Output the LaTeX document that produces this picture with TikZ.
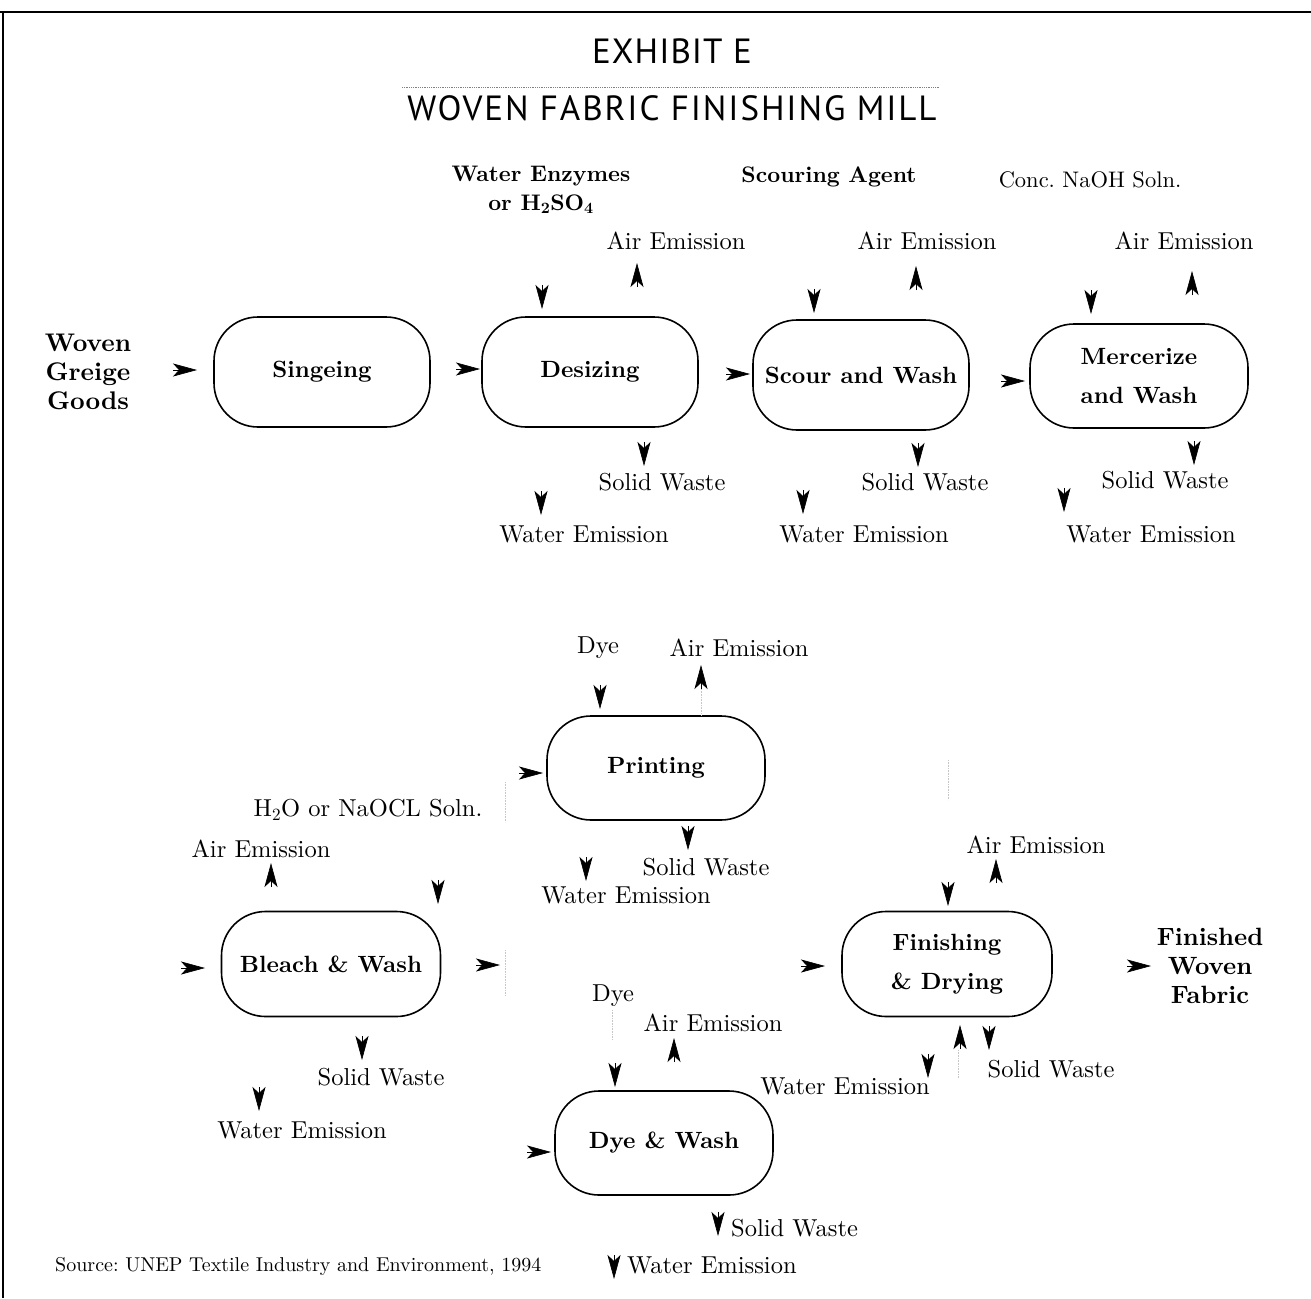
\documentclass[tikz,border=0pt]{standalone}
\usepackage{fontspec}
\setmainfont{lmroman10-regular.otf}[BoldFont=lmroman10-bold.otf, ItalicFont=lmroman10-italic.otf]
\newfontfamily\titlefont{PT Sans}
\usetikzlibrary{arrows.meta}
\frenchspacing

% text sizes
\newcommand\lblsize{\fontsize{24.5}{29}\selectfont}
\newcommand\boldsize{\fontsize{22.5}{29}\selectfont\bfseries}
\newcommand\boxsize{\fontsize{23.5}{39}\selectfont\bfseries}

\tikzset{
  proc/.style={draw, line width=1.6pt, rounded corners=44pt, minimum width=216pt,
    minimum height=110pt, align=center, font=\boxsize, inner sep=0pt},
  lbl/.style={font=\lblsize, inner sep=0pt},
  inlbl/.style={font=\boldsize, inner sep=0pt, align=center},
  tip/.style={-{Stealth[length=24pt,width=13pt,inset=6pt]}, line width=0.6pt},
  faint/.style={gray!45, densely dotted, line width=0.6pt},
}

\begin{document}
\begin{tikzpicture}[x=1pt,y=-1pt]
\useasboundingbox (0,0) rectangle (1311,1298);

% frame edges
\draw[line width=2pt] (0,12) -- (1311,12);
\draw[line width=1.4pt] (3,12) -- (3,1298);

% heading
\node[font=\titlefont\fontsize{35}{40}\selectfont\addfontfeatures{LetterSpace=3}, inner sep=0pt] (title) at (672,51) {EXHIBIT E};
\coordinate (ruleL) at (402,87);
\coordinate (ruleR) at (940,87);
\draw[gray, densely dotted, line width=0.8pt] (ruleL) -- (ruleR);
\node[font=\titlefont\fontsize{35}{40}\selectfont\addfontfeatures{LetterSpace=5.5}, inner sep=0pt] (subtitle) at (672,108) {WOVEN FABRIC FINISHING MILL};

% process steps
\node[proc] (sing)  at (322,372)  {Singeing};
\node[proc] (desz)  at (590,372)  {Desizing};
\node[proc] (scour) at (861,375)  {Scour and Wash};
\node[proc, minimum width=218pt, minimum height=104pt] (merc) at (1139,376) {Mercerize\\and Wash};
\node[proc, minimum width=218pt, minimum height=104pt] (print) at (656,768) {Printing};
\node[proc, minimum width=219pt, minimum height=105pt] (bleach) at (331,964) {Bleach \& Wash};
\node[proc, minimum width=210pt, minimum height=105pt] (finish) at (947,964) {Finishing\\\& Drying};
\node[proc, minimum width=218pt, minimum height=104pt] (dyew) at (664,1143) {Dye \& Wash};

% inputs and outputs of the line
\node[inlbl, font=\fontsize{25.5}{29}\selectfont\bfseries] (greige) at (88,372) {Woven\\Greige\\Goods};
\node[inlbl, font=\fontsize{25}{29}\selectfont\bfseries] (fabric) at (1210,966) {Finished\\Woven\\Fabric};

% chemicals fed in
\node[inlbl] (enz)   at (541,190) {Water Enzymes\\or H\textsubscript{2}SO\textsubscript{4}};
\node[inlbl] (scag)  at (829,177) {Scouring Agent};
\node[lbl, font=\fontsize{22.5}{29}\selectfont] (naoh) at (1090,180) {Conc. NaOH Soln.};
\node[lbl]   (h2o)   at (368,810) {H\textsubscript{2}O or NaOCL Soln.};
\node[lbl]   (dye1)  at (598,648) {Dye};
\node[lbl]   (dye2)  at (613,996) {Dye};

% emissions and wastes
\node[lbl] (air1) at (676,241)  {Air Emission};
\node[lbl] (air2) at (927,241)  {Air Emission};
\node[lbl] (air3) at (1184,241) {Air Emission};
\node[lbl] (sol1) at (662,482)  {Solid Waste};
\node[lbl] (sol2) at (925,482)  {Solid Waste};
\node[lbl] (sol3) at (1165,480) {Solid Waste};
\node[lbl] (wat1) at (584,534)  {Water Emission};
\node[lbl] (wat2) at (864,534)  {Water Emission};
\node[lbl] (wat3) at (1151,534) {Water Emission};

\node[lbl] (air4) at (739,648)  {Air Emission};
\node[lbl] (sol4) at (706,867)  {Solid Waste};
\node[lbl] (wat4) at (626,895)  {Water Emission};

\node[lbl] (air5) at (261,849)  {Air Emission};
\node[lbl] (sol5) at (381,1077) {Solid Waste};
\node[lbl] (wat5) at (302,1130) {Water Emission};

\node[lbl] (air6) at (1036,845) {Air Emission};
\node[lbl] (sol6) at (1051,1069) {Solid Waste};
\node[lbl] (wat6) at (845,1086) {Water Emission};

\node[lbl] (air7) at (713,1023) {Air Emission};
\node[lbl, anchor=west] (sol7) at (731,1228) {Solid Waste};
\node[lbl, anchor=west] (wat7) at (627,1265) {Water Emission};

\node[font=\fontsize{20}{22}\selectfont, inner sep=0pt, anchor=west] (src) at (55,1266)
  {Source: UNEP Textile Industry and Environment, 1994};

% flow arrowheads (tail -> point)
\foreach \n/\xa/\ya/\xb/\yb in {
  fa/173/370/197/370, fb/456/369/480/369, fc/726/374/750/374, fd/1001/381/1025/381,
  fe/519/773/543/773, ff/181/968/205/968, fg/476/965/500/965, fh/801/966/825/966,
  fi/1127/966/1151/966, fj/527/1152/551/1152,
  da/542/285/542/309, db/644/442/644/466, dc/541/491/541/515,
  dd/814/289/814/313, de/918/443/918/467, df/803/490/803/514,
  dg/1091/290/1091/314, dh/1194/441/1194/465, di/1064/488/1064/512,
  dj/600/685/600/709, dk/688/826/688/850, dl/586/857/586/881,
  dm/438/880/438/904, dn/362/1036/362/1060, do/259/1087/259/1111,
  dp/948/882/948/906, dq/989/1026/989/1050, dr/928/1054/928/1078,
  ds/615/1063/615/1087, dt/718/1212/718/1236, du/614/1255/614/1279,
  ua/637/287/637/263, ub/916/290/916/266, uc/1192/295/1192/271,
  ud/701/689/701/665, ue/271/887/271/863, uf/996/883/996/859,
  ug/960/1049/960/1025, uh/674/1062/674/1038}
{
  \coordinate (\n-s) at (\xa,\ya);
  \coordinate (\n-e) at (\xb,\yb);
  \draw[tip] (\n-s) -- (\n-e);
}

% faint guide marks
\draw[faint] (ud-s) -- (print.north -| ud-s);
\draw[faint] (505,782) -- (505,822);
\draw[faint] (505,950) -- (505,996);
\draw[faint] (948,760) -- (948,800);
\draw[faint] (612,1010) -- (612,1040);
\draw[faint] (958,1050) -- (958,1078);
\end{tikzpicture}
\end{document}
